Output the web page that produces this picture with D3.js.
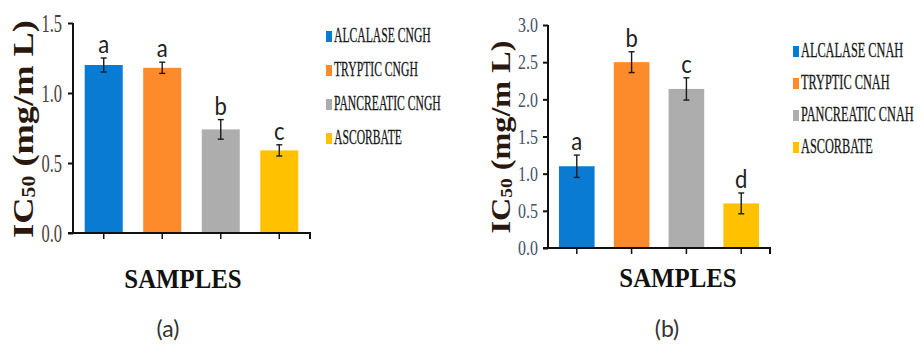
<!DOCTYPE html>
<html>
<head>
<meta charset="utf-8">
<script src="https://cdn.jsdelivr.net/npm/d3@7"></script>
<style>
  html, body { margin: 0; padding: 0; background: #fff; }
  svg { display: block; }
</style>
</head>
<body>
<svg id="chart" width="924" height="344"></svg>
<script>
// IC50 of hydrolysates vs. ascorbate, two panels
const colors = ["#0a7bd2", "#fd8a2b", "#adadad", "#ffc100"];

const categoriesA = ["ALCALASE CNGH", "TRYPTIC CNGH", "PANCREATIC CNGH", "ASCORBATE"];
const valuesA = [1.20, 1.18, 0.74, 0.59];
const errorsA = [0.05, 0.04, 0.07, 0.04];
const lettersA = ["a", "a", "b", "c"];
const ticksA = [0, 0.5, 1.0, 1.5];

const categoriesB = ["ALCALASE CNAH", "TRYPTIC CNAH", "PANCREATIC CNAH", "ASCORBATE"];
const valuesB = [1.10, 2.50, 2.14, 0.60];
const errorsB = [0.15, 0.14, 0.15, 0.14];
const lettersB = ["a", "b", "c", "d"];
const ticksB = [0, 0.5, 1.0, 1.5, 2.0, 2.5, 3.0];

const svg = d3.select("#chart");
const fmt = d3.format(".1f");

function drawPanel(cfg) {
  const g = svg.append("g");
  const y = d3.scaleLinear().domain([0, cfg.max]).range([cfg.bottom, cfg.top]);
  const x = d3.scaleBand().domain(cfg.categories)
    .range([cfg.left, cfg.right]).paddingInner(0.35).paddingOuter(0.2);

  // bars
  g.selectAll("rect.bar").data(cfg.categories).join("rect")
    .attr("class", "bar")
    .attr("x", d => x(d))
    .attr("width", x.bandwidth())
    .attr("y", (d, i) => y(cfg.values[i]))
    .attr("height", (d, i) => y(0) - y(cfg.values[i]))
    .attr("fill", (d, i) => colors[i]);

  // error bars
  const eb = g.selectAll("g.err").data(cfg.categories).join("g").attr("class", "err")
    .attr("stroke", "#1a1a1a").attr("stroke-width", 1.4);
  eb.append("line")
    .attr("x1", d => x(d) + x.bandwidth() / 2).attr("x2", d => x(d) + x.bandwidth() / 2)
    .attr("y1", (d, i) => y(cfg.values[i] + cfg.errors[i]))
    .attr("y2", (d, i) => y(cfg.values[i] - cfg.errors[i]));
  [1, -1].forEach(s => {
    eb.append("line")
      .attr("x1", d => x(d) + x.bandwidth() / 2 - 3).attr("x2", d => x(d) + x.bandwidth() / 2 + 3)
      .attr("y1", (d, i) => y(cfg.values[i] + s * cfg.errors[i]))
      .attr("y2", (d, i) => y(cfg.values[i] + s * cfg.errors[i]));
  });

  // significance letters
  g.selectAll("text.sig").data(cfg.categories).join("text")
    .attr("class", "sig")
    .attr("transform", (d, i) =>
      `translate(${x(d) + x.bandwidth() / 2},${y(cfg.values[i] + cfg.errors[i]) - 5}) scale(0.85,1)`)
    .attr("text-anchor", "middle")
    .attr("font-family", "Lato, 'Open Sans', sans-serif")
    .attr("font-size", 26)
    .attr("fill", "#222")
    .text((d, i) => cfg.letters[i]);

  // y axis
  const yAxis = g.append("g")
    .attr("transform", `translate(${cfg.left},0)`)
    .call(d3.axisLeft(y).tickValues(cfg.ticks).tickFormat(fmt).tickSize(5).tickSizeOuter(0));
  yAxis.select(".domain").attr("stroke", "#111").attr("stroke-width", 2)
    .attr("d", `M0,${cfg.top}V${cfg.bottom}`);
  yAxis.selectAll(".tick line").attr("stroke", "#111").attr("stroke-width", 2);
  yAxis.selectAll(".tick text")
    .attr("x", -cfg.labelGap / cfg.tickScale)
    .attr("transform", `scale(${cfg.tickScale},1)`)
    .attr("font-family", "'Liberation Serif', 'Times New Roman', serif")
    .attr("font-size", cfg.tickFont)
    .attr("fill", cfg.tickColor);

  // x axis with ticks at category centres
  const xAxis = g.append("g")
    .attr("transform", `translate(0,${cfg.bottom})`)
    .call(d3.axisBottom(x).tickSize(6).tickSizeOuter(0).tickFormat(""));
  xAxis.select(".domain").attr("stroke", "#111").attr("stroke-width", 2)
    .attr("d", `M${cfg.left - 5},0H${cfg.right}V6`);
  xAxis.selectAll(".tick line").attr("stroke", "#111").attr("stroke-width", 1.5);

  // y-axis title
  const yt = g.append("g")
    .attr("transform", `translate(${cfg.titleX},${cfg.titleY}) rotate(-90)`);
  const ytText = yt.append("text")
    .attr("text-anchor", "middle")
    .attr("font-family", "'Liberation Serif', 'Times New Roman', serif")
    .attr("font-weight", "bold")
    .attr("font-size", cfg.titleFont)
    .attr("fill", "#2a170d");
  ytText.append("tspan").text("IC");
  ytText.append("tspan").attr("font-size", cfg.titleFont * 0.6).attr("dy", 2).text("50");
  ytText.append("tspan").attr("dy", -2).text(" (mg/m L)");
  const len = ytText.node().getComputedTextLength();
  ytText.attr("transform", `scale(${cfg.titleLen / len},1)`);

  // x-axis title
  g.append("text")
    .attr("transform", `translate(${cfg.samplesX},${cfg.samplesY}) scale(0.92,1)`)
    .attr("text-anchor", "middle")
    .attr("font-family", "'Liberation Serif', 'Times New Roman', serif")
    .attr("font-weight", "bold")
    .attr("font-size", 27)
    .attr("fill", "#111")
    .text("SAMPLES");

  // legend
  const lg = g.selectAll("g.leg").data(cfg.categories).join("g").attr("class", "leg")
    .attr("transform", (d, i) => `translate(${cfg.legX},${cfg.legY + i * cfg.legStep})`);
  lg.append("rect")
    .attr("x", -8).attr("y", -11).attr("width", 6).attr("height", 11)
    .attr("fill", (d, i) => colors[i]);
  lg.append("text")
    .attr("transform", `scale(${cfg.legScale},1)`)
    .attr("font-family", "'Liberation Serif', 'Times New Roman', serif")
    .attr("font-size", 22)
    .attr("fill", "#161616")
    .attr("stroke", "#161616").attr("stroke-width", 0.3)
    .text(d => d);

  // panel tag
  g.append("text")
    .attr("x", cfg.tagX).attr("y", 337)
    .attr("text-anchor", "middle")
    .attr("font-family", "Lato, 'Open Sans', sans-serif")
    .attr("font-size", 23)
    .attr("fill", "#333")
    .text(cfg.tag);
}

drawPanel({
  categories: categoriesA, values: valuesA, errors: errorsA, letters: lettersA, ticks: ticksA,
  max: 1.5, top: 23, bottom: 233, left: 73, right: 310,
  tickScale: 0.66, tickFont: 25, labelGap: 11, tickColor: "#4a3f38",
  titleX: 33, titleY: 129, titleFont: 30, titleLen: 218,
  samplesX: 183, samplesY: 288,
  legX: 334, legY: 42, legStep: 34, legScale: 0.53,
  tagX: 168, tag: "(a)"
});

drawPanel({
  categories: categoriesB, values: valuesB, errors: errorsB, letters: lettersB, ticks: ticksB,
  max: 3.0, top: 25, bottom: 248, left: 548, right: 770,
  tickScale: 0.76, tickFont: 21, labelGap: 10, tickColor: "#435068",
  titleX: 510, titleY: 137, titleFont: 28, titleLen: 193,
  samplesX: 678, samplesY: 287,
  legX: 801, legY: 57, legStep: 32, legScale: 0.56,
  tagX: 667, tag: "(b)"
});
</script>
</body>
</html>
